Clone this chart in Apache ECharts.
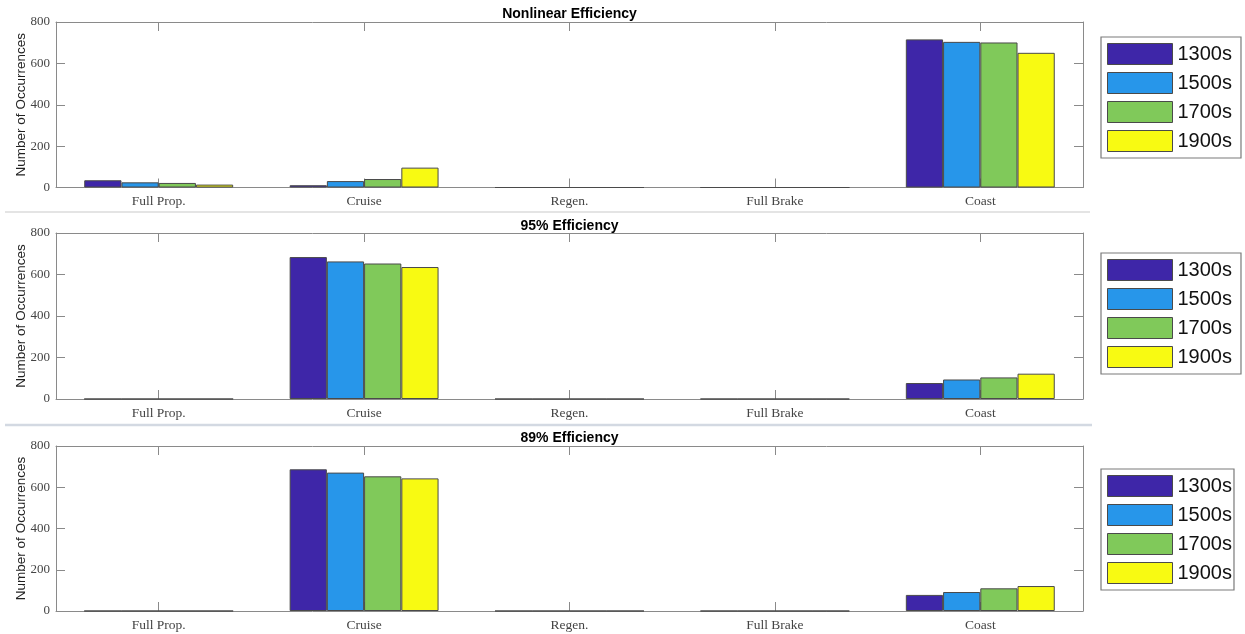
<!DOCTYPE html>
<html>
<head>
<meta charset="utf-8">
<title>Drive mode occurrences</title>
<script src="https://cdn.jsdelivr.net/npm/echarts@6/dist/echarts.min.js"></script>
<style>
  html, body { margin: 0; padding: 0; background: #ffffff; }
  #chart { width: 1245px; height: 634px; }
</style>
</head>
<body>
<div id="chart"></div>
<script>
// Drive-mode categories and the century groups compared in each panel
const categories = ['Full Prop.', 'Cruise', 'Regen.', 'Full Brake', 'Coast'];
const groupNames = ['1300s', '1500s', '1700s', '1900s'];
const panelTitles = ['Nonlinear Efficiency', '95% Efficiency', '89% Efficiency'];
const yAxisName = 'Number of Occurrences';
const yMin = 0;
const yMax = 800;
const yStep = 200;

// Nonlinear efficiency counts per group
const nonlinear1300s = [35, 11, 0, 0, 716];
const nonlinear1500s = [25, 31, 0, 0, 704];
const nonlinear1700s = [22, 41, 0, 0, 701];
const nonlinear1900s = [14, 96, 0, 0, 651];

// 95% efficiency counts per group
const eff95_1300s = [0, 684, 0, 0, 77];
const eff95_1500s = [0, 663, 0, 0, 94];
const eff95_1700s = [0, 653, 0, 0, 104];
const eff95_1900s = [0, 636, 0, 0, 122];

// 89% efficiency counts per group
const eff89_1300s = [0, 687, 0, 0, 78];
const eff89_1500s = [0, 671, 0, 0, 92];
const eff89_1700s = [0, 653, 0, 0, 110];
const eff89_1900s = [0, 643, 0, 0, 121];

const panelData = [
  [nonlinear1300s, nonlinear1500s, nonlinear1700s, nonlinear1900s],
  [eff95_1300s, eff95_1500s, eff95_1700s, eff95_1900s],
  [eff89_1300s, eff89_1500s, eff89_1700s, eff89_1900s]
];

// Parula-style palette
const colors = ['#3E26A8', '#2796EA', '#80C95A', '#F8FA12'];

// Layout of the three stacked panels
const plotLeft = 56;
const plotWidth = 1027;
const panelTops = [22, 233, 446];
const panelHeights = [165.5, 166, 165];
const titleTops = [7, 219, 431];
const legendTops = [37, 253, 469];
const legendPadding = [[6, 9, 6, 6], [6, 9, 6, 6], [6, 2, 6, 6]];

const axisColor = '#8a8a8a';
const serifFont = '"Liberation Serif", "DejaVu Serif", serif';
const sansFont = '"Liberation Sans", Arial, sans-serif';

const grid = [], xAxis = [], yAxis = [], series = [], title = [], legend = [];

panelTops.forEach((top, p) => {
  grid.push({ left: plotLeft, top: top, width: plotWidth, height: panelHeights[p] });

  // bottom category axis with labels
  xAxis.push({
    type: 'category', gridIndex: p, data: categories, position: 'bottom',
    boundaryGap: true,
    axisLine: { show: true, onZero: false, lineStyle: { color: axisColor, width: 1 } },
    axisTick: { show: true, inside: true, alignWithLabel: true, length: 9, lineStyle: { color: axisColor } },
    axisLabel: { show: true, margin: 7, color: '#444', fontFamily: serifFont, fontSize: 13.5 },
    splitLine: { show: false }
  });
  // top frame axis with ticks only
  xAxis.push({
    type: 'category', gridIndex: p, data: categories, position: 'top',
    boundaryGap: true,
    axisLine: { show: true, onZero: false, lineStyle: { color: axisColor, width: 1 } },
    axisTick: { show: true, inside: true, alignWithLabel: true, length: 9, lineStyle: { color: axisColor } },
    axisLabel: { show: false },
    splitLine: { show: false }
  });

  // left value axis
  yAxis.push({
    type: 'value', gridIndex: p, min: yMin, max: yMax, interval: yStep, position: 'left',
    name: yAxisName, nameLocation: 'middle', nameGap: 28, nameMoveOverlap: false,
    nameTextStyle: { fontFamily: sansFont, fontSize: 13.5, color: '#222' },
    axisLine: { show: true, onZero: false, lineStyle: { color: axisColor, width: 1 } },
    axisTick: { show: true, inside: true, length: 9, lineStyle: { color: axisColor } },
    axisLabel: { show: true, margin: 6, color: '#444', fontFamily: serifFont, fontSize: 13 },
    splitLine: { show: false }
  });
  // right frame axis with ticks only
  yAxis.push({
    type: 'value', gridIndex: p, min: yMin, max: yMax, interval: yStep, position: 'right',
    axisLine: { show: true, onZero: false, lineStyle: { color: axisColor, width: 1 } },
    axisTick: { show: true, inside: true, length: 9, lineStyle: { color: axisColor } },
    axisLabel: { show: false },
    splitLine: { show: false }
  });

  groupNames.forEach((name, s) => {
    series.push({
      type: 'bar', name: name,
      xAxisIndex: p * 2, yAxisIndex: p * 2,
      data: panelData[p][s],
      barGap: '0%', barCategoryGap: '27.5%',
      itemStyle: { color: colors[s], borderColor: '#4a4a4a', borderWidth: 1 },
      emphasis: { disabled: true },
      z: 2
    });
  });

  title.push({
    text: panelTitles[p],
    left: plotLeft + plotWidth / 2, top: titleTops[p], textAlign: 'center', padding: 0,
    textStyle: { fontFamily: sansFont, fontSize: 14, fontWeight: 'bold', color: '#000' }
  });

  legend.push({
    data: groupNames, orient: 'vertical',
    left: 1101, top: legendTops[p],
    padding: legendPadding[p],
    itemWidth: 65, itemHeight: 21, itemGap: 7,
    icon: 'rect',
    itemStyle: { borderColor: '#4a4a4a', borderWidth: 1 },
    borderColor: '#7a7a7a', borderWidth: 1.2,
    backgroundColor: '#ffffff',
    selectedMode: false,
    textStyle: { fontFamily: sansFont, fontSize: 20, lineHeight: 21, color: '#111' }
  });
});

// Light rules separating the stacked panels
const graphic = [
  { type: 'line', shape: { x1: 5, y1: 212, x2: 1090, y2: 212 }, style: { stroke: '#e4e4e4', lineWidth: 2 } },
  { type: 'line', shape: { x1: 5, y1: 425, x2: 1092, y2: 425 }, style: { stroke: '#d3d9e2', lineWidth: 2.5 } }
];

const chart = echarts.init(document.getElementById('chart'), null, { renderer: 'canvas' });
chart.setOption({
  animation: false,
  backgroundColor: '#ffffff',
  title, legend, grid, xAxis, yAxis, series, graphic
});
</script>
</body>
</html>
